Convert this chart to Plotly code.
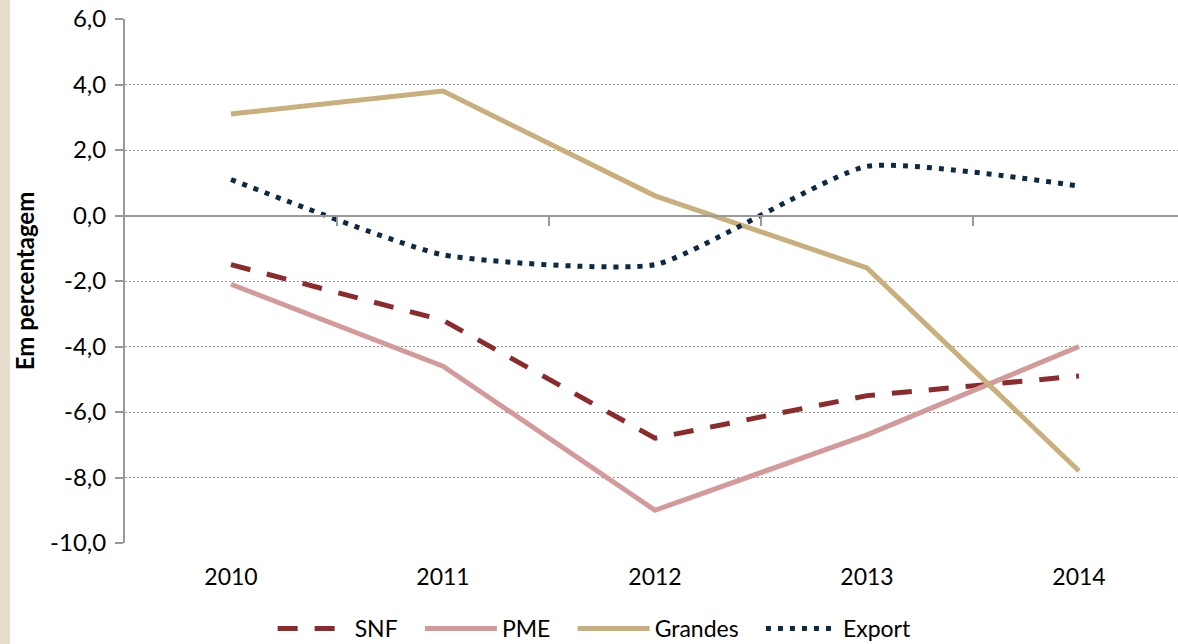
import plotly.graph_objects as go

years = ['2010', '2011', '2012', '2013', '2014']
snf = [-1.5, -3.2, -6.8, -5.5, -4.9]
pme = [-2.1, -4.6, -9.0, -6.7, -4.0]
grandes = [3.1, 3.8, 0.6, -1.6, -7.8]
export = [1.1, -1.2, -1.5, 1.5, 0.9]
series_names = ['SNF', 'PME', 'Grandes', 'Export']

y_ticks = [6, 4, 2, 0, -2, -4, -6, -8, -10]
y_labels = [('%.1f' % v).replace('.', ',') for v in y_ticks]
boundaries = [0.5, 1.5, 2.5, 3.5]

FONT = 'Lato'
PAD = '\u2003'  # extra room between legend entries

fig = go.Figure()
fig.add_trace(go.Scatter(x=list(range(5)), y=snf, name=series_names[0] + PAD, mode='lines',
                         line=dict(color='#8C2A2C', width=5, dash='20px,17px')))
fig.add_trace(go.Scatter(x=list(range(5)), y=pme, name=series_names[1] + PAD, mode='lines',
                         line=dict(color='#D49A9B', width=5)))
fig.add_trace(go.Scatter(x=list(range(5)), y=grandes, name=series_names[2] + PAD, mode='lines',
                         line=dict(color='#C9AF7B', width=5)))
fig.add_trace(go.Scatter(x=list(range(5)), y=export, name=series_names[3], mode='lines',
                         line=dict(color='#0D2A44', width=5, dash='5px,7px',
                                   shape='spline', smoothing=0.5)))

# zero line with category boundary ticks
fig.add_trace(go.Scatter(x=[None], y=[None], xaxis='x2', showlegend=False,
                         hoverinfo='skip'))

fig.update_layout(
    width=1178, height=644, autosize=False,
    margin=dict(l=125, r=0, t=19, b=101, autoexpand=False),
    paper_bgcolor='white', plot_bgcolor='white',
    font=dict(family=FONT, size=23, color='black'),
    xaxis=dict(range=[-0.5, 4.467], tickvals=list(range(5)), ticktext=years,
               showgrid=False, zeroline=False, showline=False, ticks='',
               ticklabelstandoff=18, automargin=False),
    xaxis2=dict(range=[-0.5, 4.467], overlaying='x', anchor='free',
                position=10 / 16, side='bottom', tickvals=boundaries,
                showticklabels=False, ticks='outside', ticklen=9, tickwidth=2,
                tickcolor='#999999', showline=True, linecolor='#999999',
                linewidth=2, showgrid=False, zeroline=False, automargin=False),
    yaxis=dict(range=[-10, 6], tickvals=y_ticks, ticktext=y_labels,
               showgrid=True, gridcolor='#999999', gridwidth=1, griddash='2px,2px',
               zeroline=False, showline=True, linecolor='#999999', linewidth=2,
               ticks='outside', ticklen=8, tickwidth=2, tickcolor='#999999',
               ticklabelstandoff=4, automargin=False,
               tickfont=dict(size=24),
               title=dict(text='<b>Em percentagem</b>', font=dict(size=24),
                          standoff=9)),
    legend=dict(orientation='h', x=0.446, xanchor='center', y=0.024,
                yref='container', yanchor='middle', font=dict(size=23),
                itemwidth=72, tracegroupgap=0),
    shapes=[dict(type='rect', xref='paper', yref='paper',
                 x0=-125 / 1053, x1=-115 / 1053, y0=-101 / 524, y1=1 + 19 / 524,
                 fillcolor='#E6DCCB', line=dict(width=0), layer='below')],
    showlegend=True,
)

fig.write_html('out.html', config={'displayModeBar': False},
               post_script="document.body.style.margin='0px';"
                           "document.body.style.overflow='hidden';")
